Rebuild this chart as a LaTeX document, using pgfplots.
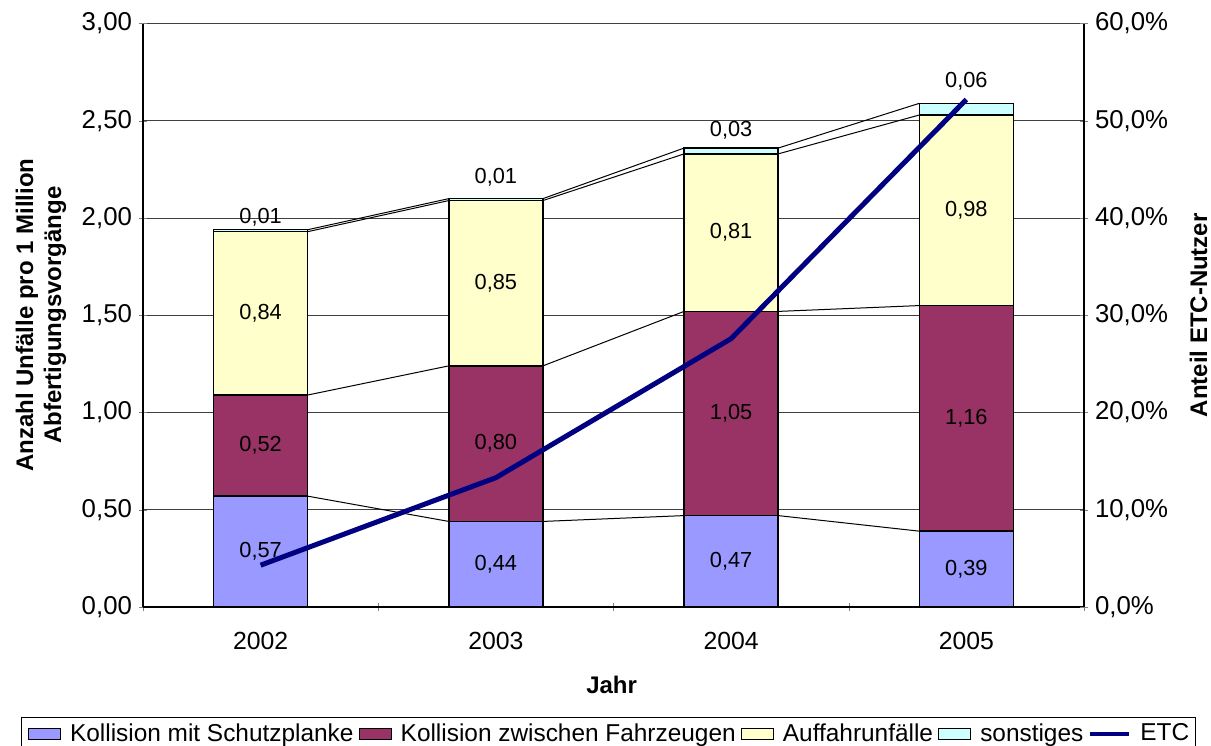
\documentclass[border=0pt]{standalone}
\usepackage{pgfplots}
\pgfplotsset{compat=1.18}
\usepackage{fontspec}
\setmainfont{Liberation Sans}
\definecolor{cA}{HTML}{9999FF}
\definecolor{cB}{HTML}{993366}
\definecolor{cC}{HTML}{FFFFCC}
\definecolor{cD}{HTML}{CCFFFF}
\definecolor{cE}{HTML}{000080}
\newcommand{\fs}{\fontsize{12bp}{14bp}\selectfont}
\newcommand{\fsy}{\fontsize{12.9bp}{14bp}\selectfont}
\newcommand{\fsx}{\fontsize{12.4bp}{14bp}\selectfont}
\newcommand{\fsd}{\fontsize{10.9bp}{12bp}\selectfont}
\newcommand{\fsl}{\fontsize{12.2bp}{14bp}\selectfont}
\begin{document}
\begin{tikzpicture}[font=\fs]
\pgfplotsset{
  base/.style={width=470.5bp, height=291.7bp, scale only axis,
    xmin=-0.5, xmax=3.5, ymin=0, ymax=3,
    tick align=outside, major tick length=4bp,
    tick label style={font=\fsy},
    /pgf/number format/assume math mode=true,
  },
}
% ---------- bars (left axis) ----------
\begin{axis}[base, name=ax, ybar stacked, bar width=0.4,
  axis x line=bottom, axis y line=left,
  axis line style={-, black, line width=0.6bp},
  ytick={0,0.5,1,1.5,2,2.5,3},
  yticklabel={\pgfmathprintnumber[fixed,fixed zerofill,precision=2,use comma]{\tick}},
  yticklabel style={font=\fsy},
  ymajorgrids, grid style={black!75, line width=0.5bp},
  xtick={-0.5,0.5,1.5,2.5,3.5}, xticklabels={},
  extra x ticks={0,1,2,3}, extra x tick labels={2002,2003,2004,2005},
  extra x tick style={major tick length=0pt, grid=none, tick label style={font=\fsx, yshift=-9bp}},
  xlabel={Jahr},
  xlabel style={at={(axis description cs:0.498,0)}, anchor=center, yshift=-39bp, font=\bfseries\fs},
  ylabel={Anzahl Unfälle pro 1 Million\\Abfertigungsvorgänge},
  ylabel style={at={(axis description cs:-0.1084,0.5)}, anchor=center, align=center, font=\bfseries\fs},
  every axis plot/.append style={draw=black, line width=0.75bp},
]
\addplot[fill=cA] coordinates {(0,0.57) (1,0.44) (2,0.47) (3,0.39)};
\addplot[fill=cB] coordinates {(0,0.52) (1,0.80) (2,1.05) (3,1.16)};
\addplot[fill=cC] coordinates {(0,0.84) (1,0.85) (2,0.81) (3,0.98)};
\addplot[fill=cD] coordinates {(0,0.01) (1,0.01) (2,0.03) (3,0.06)};
\end{axis}
% ---------- series lines and value labels ----------
\begin{axis}[base, hide axis, unbounded coords=jump]
\addplot[black, line width=0.5bp, mark=none] table {
x y
0.2 0.57
0.8 0.44
0.8 nan
1.2 0.44
1.8 0.47
1.8 nan
2.2 0.47
2.8 0.39
};
\addplot[black, line width=0.5bp, mark=none] table {
x y
0.2 1.09
0.8 1.24
0.8 nan
1.2 1.24
1.8 1.52
1.8 nan
2.2 1.52
2.8 1.55
};
\addplot[black, line width=0.5bp, mark=none] table {
x y
0.2 1.93
0.8 2.09
0.8 nan
1.2 2.09
1.8 2.33
1.8 nan
2.2 2.33
2.8 2.53
};
\addplot[black, line width=0.5bp, mark=none] table {
x y
0.2 1.94
0.8 2.10
0.8 nan
1.2 2.10
1.8 2.36
1.8 nan
2.2 2.36
2.8 2.59
};
\addplot[draw=none, mark=none, nodes near coords, point meta=explicit symbolic,
  nodes near coords align={center},
  every node near coord/.append style={font=\fsd, text=black, inner sep=0pt}]
  table[meta=label] {
x y label
0 0.285 0,57
0 0.83 0,52
0 1.51 0,84
0 2.005 0,01
1 0.22 0,44
1 0.84 0,80
1 1.665 0,85
1 2.21 0,01
2 0.235 0,47
2 0.995 1,05
2 1.925 0,81
2 2.45 0,03
3 0.195 0,39
3 0.97 1,16
3 2.04 0,98
3 2.705 0,06
};
\end{axis}
% ---------- ETC (right axis) + legend ----------
\begin{axis}[base, ymin=0, ymax=60,
  axis y line=right, axis x line=none,
  axis line style={-, black, line width=0.6bp},
  ytick={0,10,20,30,40,50,60},
  yticklabel={\pgfmathprintnumber[fixed,fixed zerofill,precision=1,use comma]{\tick}\%},
  yticklabel style={font=\fsy},
  ylabel={Anteil ETC-Nutzer},
  ylabel style={at={(axis description cs:1.1217,0.5)}, anchor=center, font=\bfseries\fs},
  legend columns=5,
  legend style={at={(0.4947,-0.1886)}, anchor=north, draw=black, line width=0.5bp,
    font=\fsl, inner xsep=3bp, inner ysep=2bp,
    nodes={inner xsep=0bp, inner ysep=1bp},
    /tikz/every odd column/.append style={column sep=4.5bp},
    /tikz/every even column/.append style={column sep=2.5bp}},
  legend cell align=left,
]
\addlegendimage{legend image code/.code={\draw[fill=cA, draw=black, line width=0.6bp] (0bp,-2.75bp) rectangle (16bp,2.75bp);}}
\addlegendentry{Kollision mit Schutzplanke}
\addlegendimage{legend image code/.code={\draw[fill=cB, draw=black, line width=0.6bp] (0bp,-2.75bp) rectangle (16bp,2.75bp);}}
\addlegendentry{Kollision zwischen Fahrzeugen}
\addlegendimage{legend image code/.code={\draw[fill=cC, draw=black, line width=0.6bp] (0bp,-2.75bp) rectangle (16bp,2.75bp);}}
\addlegendentry{Auffahrunfälle}
\addlegendimage{legend image code/.code={\draw[fill=cD, draw=black, line width=0.6bp] (0bp,-2.75bp) rectangle (16bp,2.75bp);}}
\addlegendentry{sonstiges}
\addlegendimage{legend image code/.code={\draw[cE, line width=2bp] (0bp,0bp) -- (19.5bp,0bp);}}
\addlegendentry{ETC}
\addplot[cE, line width=2.5bp, mark=none, forget plot] coordinates {(0,4.3) (1,13.3) (2,27.6) (3,52.2)};
\end{axis}
\pgfresetboundingbox
\useasboundingbox ([xshift=-71.5bp,yshift=-69.5bp]ax.south west) rectangle ([xshift=534bp,yshift=303.5bp]ax.south west);
\end{tikzpicture}
\end{document}
